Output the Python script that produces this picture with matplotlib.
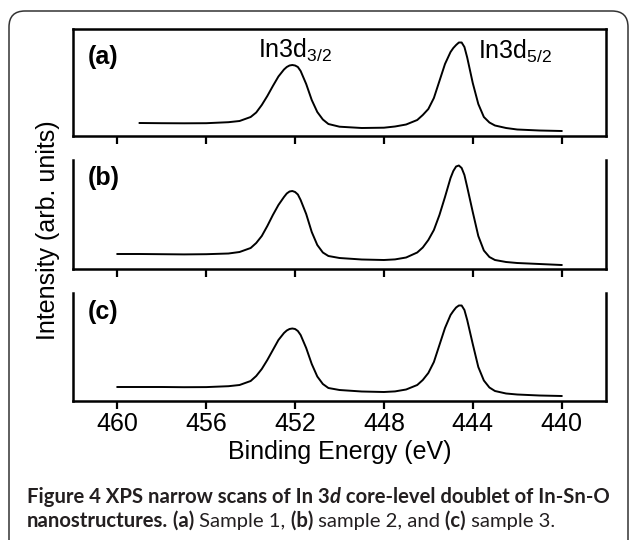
import matplotlib
matplotlib.use('Agg')
import matplotlib.pyplot as plt
import numpy as np
from matplotlib.patches import FancyBboxPatch
from matplotlib.transforms import IdentityTransform

plt.rcParams['font.family'] = ['Liberation Sans', 'DejaVu Sans']
plt.rcParams['mathtext.fontset'] = 'custom'
plt.rcParams['mathtext.rm'] = 'Liberation Sans'
plt.rcParams['mathtext.it'] = 'Liberation Sans:italic'
plt.rcParams['mathtext.bf'] = 'Liberation Sans:bold'
plt.rcParams['mathtext.default'] = 'regular'

# ---------------- data ----------------
energy = [460, 459, 458, 457, 456, 455, 454.5, 454, 453.75, 453.5, 453.25, 453,
          452.75, 452.5, 452.375, 452.25, 452.125, 452, 451.875, 451.75, 451.5,
          451.25, 451, 450.75, 450.5, 450, 449, 448, 447.5, 447, 446.5, 446.25,
          446, 445.75, 445.5, 445.25, 445, 444.875, 444.75, 444.625, 444.5,
          444.375, 444.25, 444, 443.75, 443.5, 443.25, 443, 442.5, 442, 441, 440]

intensity_a = [np.nan, 13, 12.8, 12.7, 12.8, 13.8, 15, 19, 23.5, 31, 40, 50,
               59.5, 66.5, 69, 70.5, 71, 70.5, 69, 65, 52,
               36, 24, 16.5, 12, 9.3, 8, 8.3, 9.5, 11.5, 16, 21,
               27, 38, 55, 72, 84, 88, 91, 93.5, 93.5,
               89, 78.5, 53, 32, 19, 13.5, 10.5, 8, 6.5, 5.5, 5]

intensity_b = [15, 15, 14.8, 14.6, 14.8, 15.5, 17, 21, 26, 33, 43, 54,
               64, 72, 75.5, 77.5, 78, 77, 74.5, 69, 55,
               37, 24, 16.5, 13, 11, 9.5, 9, 9.6, 11.5, 16.5, 21.5,
               29, 39, 54, 72, 91, 98, 102.5, 103.5, 101,
               94, 82, 57, 33, 18.5, 12, 9, 7, 6, 5, 4]

intensity_c = [14, 14, 14, 13.8, 13.9, 14.8, 16, 20, 25, 32, 41, 51,
               61, 68, 70.5, 72, 72.5, 72, 70, 66, 53,
               37, 24.5, 17, 13, 11, 9.5, 9, 9.6, 11.5, 16, 21,
               28, 39, 56, 73, 86, 90, 93.5, 95.5, 95.5,
               91, 81, 57, 34, 20.5, 13.5, 10, 7.5, 6.5, 5.5, 5]

panel_labels = ['(a)', '(b)', '(c)']
xticks = [460, 456, 452, 448, 444, 440]
xlabel = 'Binding Energy (eV)'
ylabel = 'Intensity (arb. units)'
peak_labels = [r'In3d$_{3/2}$', r'In3d$_{5/2}$']
peak_label_pos = [(453.69, 78), (443.78, 77.5)]

# ---------------- figure ----------------
W, H = 629, 540
fig = plt.figure(figsize=(W / 100, H / 100), dpi=100)


def rect(l, t, r, b):
    return [l / W, 1 - b / H, (r - l) / W, (b - t) / H]


rects = [rect(73, 29, 606, 136), rect(73, 160, 606, 269), rect(73, 293, 606, 401)]
ylims = [(0, 107), (0, 109), (0, 108)]
series = [intensity_a, intensity_b, intensity_c]
label_y = [0.738, 0.835, 0.824]

axes = []
for i, (r, yl, vals) in enumerate(zip(rects, ylims, series)):
    ax = fig.add_axes(r)
    ax.plot(energy, vals, color='black', lw=1.4, solid_joinstyle='round')
    ax.set_xlim(462, 438)
    ax.set_ylim(*yl)
    ax.set_xticks(xticks)
    ax.set_yticks([])
    ax.tick_params(axis='x', direction='out', length=6, width=1.6,
                   labelsize=18, pad=2, colors='black')
    for s in ax.spines.values():
        s.set_linewidth(1.8)
    if i > 0:
        ax.spines['top'].set_visible(False)
    if i < 2:
        ax.tick_params(labelbottom=False)
    ax.text(0.028, label_y[i], panel_labels[i], transform=ax.transAxes,
            fontsize=18, fontweight='bold', ha='left', va='center')
    axes.append(ax)

for txt, (x, y) in zip(peak_labels, peak_label_pos):
    axes[0].text(x, y, txt, fontsize=18, ha='left', va='baseline')

axes[2].set_xlabel(xlabel, fontsize=18, labelpad=3)
fig.text(48 / W, 1 - 230 / H, ylabel, rotation=90, fontsize=18,
         ha='center', va='center')

# outer rounded frame
box = FancyBboxPatch((9, -40), 619, H - 11 + 40,
                     boxstyle='round,pad=0,rounding_size=16',
                     transform=IdentityTransform(), fill=False,
                     ec='#333333', lw=1.1)
fig.add_artist(box)

# ---------------- caption ----------------
cap_font = ['Lato', 'DejaVu Sans']
cap_color = '#231f20'
line1 = [('Figure 4 XPS narrow scans of In 3', 'bold', 'normal'),
         ('d', 'bold', 'italic'),
         (' core-level doublet of In-Sn-O', 'bold', 'normal')]
line2 = [('nanostructures.', 'bold', 'normal'),
         (' (a)', 'bold', 'normal'),
         (' Sample 1,', 'normal', 'normal'),
         (' (b)', 'bold', 'normal'),
         (' sample 2, and', 'normal', 'normal'),
         (' (c)', 'bold', 'normal'),
         (' sample 3.', 'normal', 'normal')]

renderer = fig.canvas.get_renderer()


def draw_runs(runs, x0, y0, size, keep=True):
    x = x0
    arts = []
    for s, w, st in runs:
        t = fig.text(x, y0, s, fontsize=size, fontweight=w, fontstyle=st,
                     family=cap_font, color=cap_color, transform=IdentityTransform(),
                     ha='left', va='baseline')
        bb = t.get_window_extent(renderer)
        x = bb.x1 + (0.5 if st == 'italic' else 0)
        arts.append(t)
    if not keep:
        for a in arts:
            a.remove()
    return x - x0

base = 13.0
wtest = draw_runs(line1, 27, 37, base, keep=False)
size = base * 582 / wtest
draw_runs(line1, 27, H - 503, size)
draw_runs(line2, 27, H - 527, size)

fig.savefig('out.png', dpi=100)
